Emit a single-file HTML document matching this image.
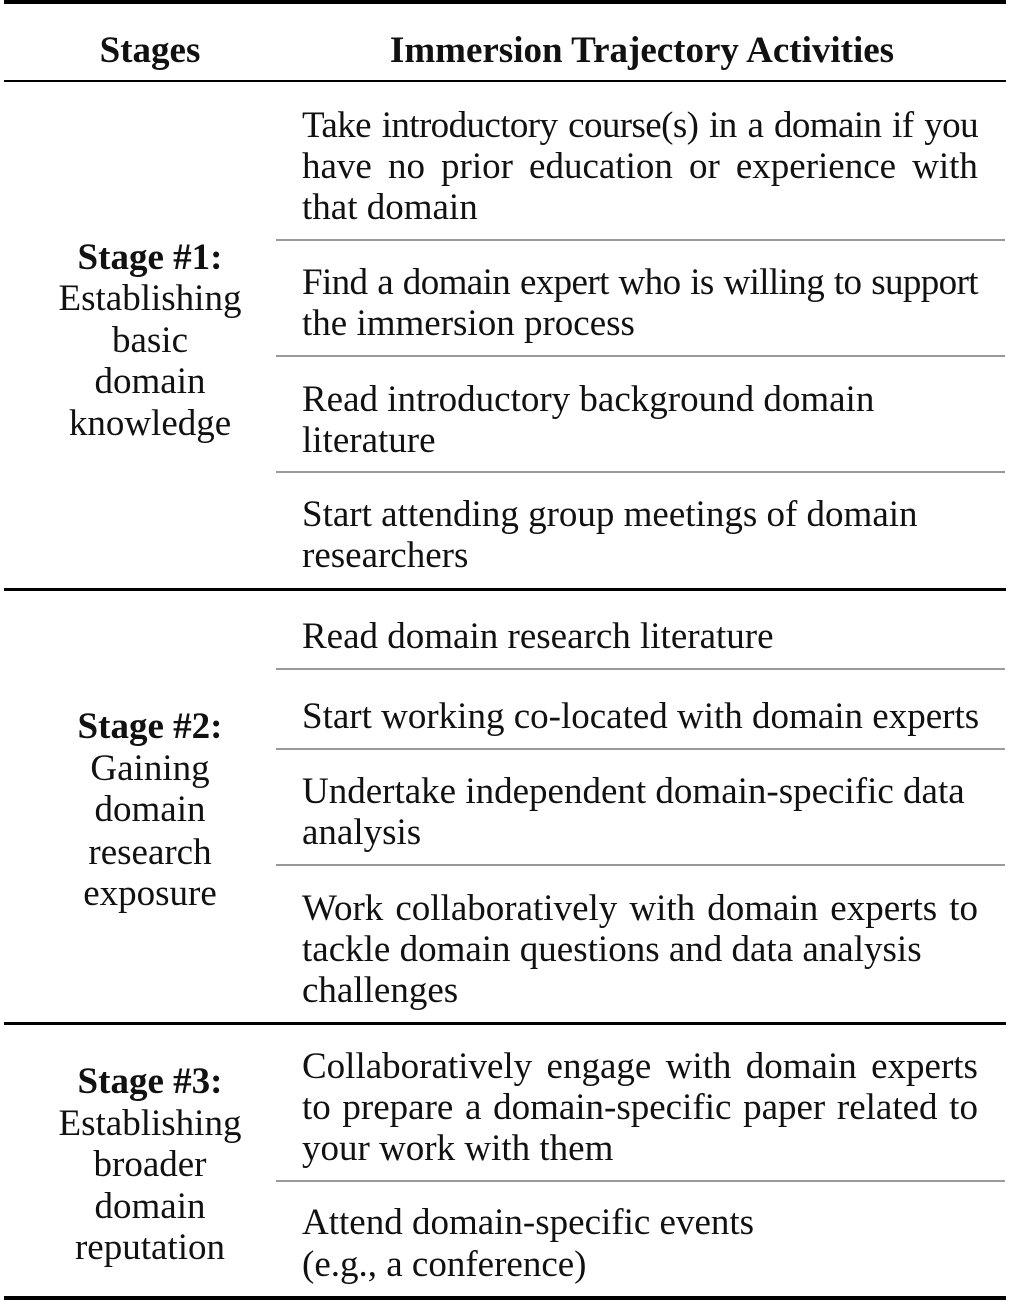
<!DOCTYPE html>
<html><head><meta charset="utf-8"><style>
html,body{margin:0;padding:0;background:#fff;}
body{width:1011px;height:1304px;position:relative;overflow:hidden;font-family:"Liberation Serif",serif;font-size:37px;color:#111;}
.l{position:absolute;line-height:41px;white-space:nowrap;}
.r{left:302px;width:676px;}
.j{display:flex;justify-content:space-between;}
.t{letter-spacing:-0.6px;}
.c{left:0;width:300px;text-align:center;}
.b{font-weight:bold;}
.hl{position:absolute;background:#000;}
.g{position:absolute;left:276px;width:729px;height:2px;background:#999;}
</style></head><body>
<div class="hl" style="left:4px;width:1002px;top:0;height:4px"></div>
<div class="hl" style="left:4px;width:1002px;top:80px;height:2px"></div>
<div class="hl" style="left:4px;width:1002px;top:588px;height:3px"></div>
<div class="hl" style="left:4px;width:1002px;top:1022px;height:3px"></div>
<div class="hl" style="left:4px;width:1002px;top:1296px;height:4px"></div>
<div class="g" style="top:239px"></div>
<div class="g" style="top:355px"></div>
<div class="g" style="top:471px"></div>
<div class="g" style="top:668px"></div>
<div class="g" style="top:748px"></div>
<div class="g" style="top:864px"></div>
<div class="g" style="top:1180px"></div>

<div class="l c b" style="top:30px">Stages</div>
<div class="l b" style="top:30px;left:302px;width:680px;text-align:center">Immersion Trajectory Activities</div>

<div class="l r j t" style="top:105px"><span>Take</span><span>introductory</span><span>course(s)</span><span>in</span><span>a</span><span>domain</span><span>if</span><span>you</span></div>
<div class="l r j" style="top:146px"><span>have</span><span>no</span><span>prior</span><span>education</span><span>or</span><span>experience</span><span>with</span></div>
<div class="l r" style="top:187px">that domain</div>
<div class="l r j t" style="top:262px"><span>Find</span><span>a</span><span>domain</span><span>expert</span><span>who</span><span>is</span><span>willing</span><span>to</span><span>support</span></div>
<div class="l r" style="top:303px">the immersion process</div>
<div class="l r" style="top:379px">Read introductory background domain</div>
<div class="l r" style="top:420px">literature</div>
<div class="l r" style="top:494px">Start attending group meetings of domain</div>
<div class="l r" style="top:535px">researchers</div>
<div class="l r" style="top:616px">Read domain research literature</div>
<div class="l r" style="top:696px">Start working co-located with domain experts</div>
<div class="l r" style="top:771px">Undertake independent domain-specific data</div>
<div class="l r" style="top:812px">analysis</div>
<div class="l r j" style="top:888px"><span>Work</span><span>collaboratively</span><span>with</span><span>domain</span><span>experts</span><span>to</span></div>
<div class="l r" style="top:929px">tackle domain questions and data analysis</div>
<div class="l r" style="top:970px">challenges</div>
<div class="l r j" style="top:1046px"><span>Collaboratively</span><span>engage</span><span>with</span><span>domain</span><span>experts</span></div>
<div class="l r j" style="top:1087px"><span>to</span><span>prepare</span><span>a</span><span>domain-specific</span><span>paper</span><span>related</span><span>to</span></div>
<div class="l r" style="top:1128px">your work with them</div>
<div class="l r" style="top:1202px">Attend domain-specific events</div>
<div class="l r" style="top:1244px">(e.g., a conference)</div>

<div class="l c b" style="top:237px">Stage #1:</div>
<div class="l c" style="top:278px">Establishing</div>
<div class="l c" style="top:320px">basic</div>
<div class="l c" style="top:361px">domain</div>
<div class="l c" style="top:403px">knowledge</div>

<div class="l c b" style="top:706px">Stage #2:</div>
<div class="l c" style="top:748px">Gaining</div>
<div class="l c" style="top:789px">domain</div>
<div class="l c" style="top:832px">research</div>
<div class="l c" style="top:873px">exposure</div>

<div class="l c b" style="top:1061px">Stage #3:</div>
<div class="l c" style="top:1103px">Establishing</div>
<div class="l c" style="top:1144px">broader</div>
<div class="l c" style="top:1186px">domain</div>
<div class="l c" style="top:1227px">reputation</div>
</body></html>
